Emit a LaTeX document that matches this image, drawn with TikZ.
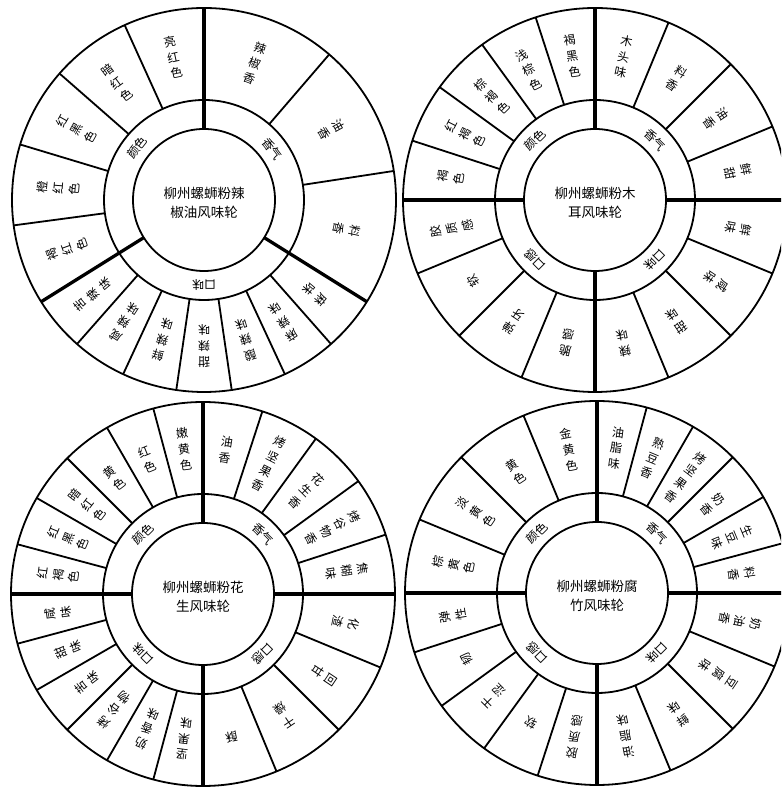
\documentclass[tikz,border=0pt]{standalone}
\usepackage{fontspec}
\newfontfamily\cjk{Noto Sans CJK SC}
\tikzset{
  ring/.style={line width=1.8pt},
  catline/.style={line width=3.3pt},
  segline/.style={line width=1.8pt},
  olab/.style={font=\cjk\fontsize{12}{16}\selectfont, align=center, inner sep=0pt},
  mlab/.style={font=\cjk\fontsize{12}{13}\selectfont, inner sep=0pt},
  wtitle/.style={font=\cjk\fontsize{13.5}{19}\selectfont, align=center, inner sep=0pt},
}
\newcommand\wheelbase[3]{%
  \draw[ring] (0,0) circle[radius=71pt];
  \draw[ring] (0,0) circle[radius=100pt];
  \draw[ring] (0,0) circle[radius=192pt];
  \node[wtitle] (#1t) at (0,-3pt) {#2\\#3};
}
\begin{document}
\begin{tikzpicture}
\clip (0,0) rectangle (781pt,789pt);
\fill[white] (0,0) rectangle (781pt,789pt);

% ---------- wheel 1 ----------
\begin{scope}[shift={(204pt,589pt)}]
  \wheelbase{wa}{柳州螺蛳粉辣}{椒油风味轮}
  \foreach \a in {90,-32,-148} \draw[catline] (\a:71pt) -- (\a:192pt);
  \foreach \a in {114.4,138.8,163.2,187.6,49.3,8.7,-48.6,-65.1,-81.7,-98.3,-114.9,-131.4}
    \draw[segline] (\a:100pt) -- (\a:192pt);
  \foreach \a/\t [count=\i] in {142/颜色,37/香气,-90/口味}
    \node[mlab,rotate=\a-90] (wam\i) at (\a:85pt) {\t};
  \foreach \a/\t [count=\i] in {102.2/{亮\\红\\色},126.6/{暗\\红\\色},151/{红\\黑\\色},175.4/{橙\\红\\色},199.8/{褐\\红\\色},
     69.7/{辣\\椒\\香},29/{油\\香},-11.7/{料\\香},
     -40.3/{麻\\味},-56.9/{麻\\辣\\味},-73.4/{酸\\辣\\味},-90/{甜\\辣\\味},-106.6/{鲜\\辣\\味},-123.1/{咸\\辣\\味},-139.7/{苦\\辣\\味}}
    \node[olab,rotate=\a-90] (wao\i) at (\a:146pt) {\t};
\end{scope}

% ---------- wheel 2 ----------
\begin{scope}[shift={(595pt,589pt)}]
  \wheelbase{wb}{柳州螺蛳粉木}{耳风味轮}
  \foreach \a in {0,90,180,270} \draw[catline] (\a:71pt) -- (\a:192pt);
  \foreach \a in {108,126,144,162,22.5,45,67.5,-22.5,-45,-67.5,202.5,225,247.5}
    \draw[segline] (\a:100pt) -- (\a:192pt);
  \foreach \a/\t [count=\i] in {135/颜色,45/香气,-45/口味,225/口感}
    \node[mlab,rotate=\a-90] (wbm\i) at (\a:85pt) {\t};
  \foreach \a/\t [count=\i] in {99/{褐\\黑\\色},117/{浅\\棕\\色},135/{棕\\褐\\色},153/{红\\褐\\色},171/{褐\\色},
     78.75/{木\\头\\味},56.25/{料\\香},33.75/{油\\香},11.25/{鲜\\甜},
     -11.25/{鲜\\味},-33.75/{咸\\味},-56.25/{甜\\味},-78.75/{辣\\味},
     191.25/{胶\\质\\感},213.75/{软},236.25/{弹\\牙},258.75/{脆\\感}}
    \node[olab,rotate=\a-90] (wbo\i) at (\a:146pt) {\t};
\end{scope}

% ---------- wheel 3 ----------
\begin{scope}[shift={(203pt,195pt)}]
  \wheelbase{wc}{柳州螺蛳粉花}{生风味轮}
  \foreach \a in {0,90,180,270} \draw[catline] (\a:71pt) -- (\a:192pt);
  \foreach \a in {105,120,135,150,165,72,54,36,18,-22.5,-45,-67.5,-105,-120,-135,-150,-165}
    \draw[segline] (\a:100pt) -- (\a:192pt);
  \foreach \a/\t [count=\i] in {135/颜色,45/香气,-45/口感,-135/口味}
    \node[mlab,rotate=\a-90] (wcm\i) at (\a:85pt) {\t};
  \foreach \a/\t [count=\i] in {97.5/{嫩\\黄\\色},112.5/{红\\色},127.5/{黄\\色},142.5/{暗\\红\\色},157.5/{红\\黑\\色},172.5/{红\\褐\\色},
     81/{油\\香},63/{烤\\坚\\果\\香},45/{花\\生\\香},27/{烤\\谷\\物\\香},9/{焦\\糊\\味},
     -11.25/{化\\渣},-33.75/{回\\甘},-56.25/{干\\燥},-78.75/{酥},
     -97.5/{坚\\果\\味},-112.5/{奶\\香\\味},-127.5/{烤\\谷\\物},-142.5/{苦\\味},-157.5/{甜\\味},-172.5/{咸\\味}}
    \node[olab,rotate=\a-90] (wco\i) at (\a:146pt) {\t};
\end{scope}

% ---------- wheel 4 ----------
\begin{scope}[shift={(597pt,196pt)}]
  \wheelbase{wd}{柳州螺蛳粉腐}{竹风味轮}
  \foreach \a in {0,90,180,270} \draw[catline] (\a:71pt) -- (\a:192pt);
  \foreach \a in {112.5,135,157.5,75,60,45,30,15,-22.5,-45,-67.5,-108,-126,-144,-162}
    \draw[segline] (\a:100pt) -- (\a:192pt);
  \foreach \a/\t [count=\i] in {135/颜色,45/香气,-45/口味,-135/口感}
    \node[mlab,rotate=\a-90] (wdm\i) at (\a:85pt) {\t};
  \foreach \a/\t [count=\i] in {101.25/{金\\黄\\色},123.75/{黄\\色},146.25/{淡\\黄\\色},168.75/{棕\\黄\\色},
     82.5/{油\\脂\\味},67.5/{熟\\豆\\香},52.5/{烤\\坚\\果\\香},37.5/{奶\\香},22.5/{生\\豆\\味},7.5/{料\\香},
     -11.25/{奶\\油\\香},-33.75/{豆\\腐\\味},-56.25/{鲜\\味},-78.75/{油\\脂\\味},
     -99/{胶\\质\\感},-117/{软},-135/{干\\涩},-153/{韧},-171/{弹\\性}}
    \node[olab,rotate=\a-90] (wdo\i) at (\a:146pt) {\t};
\end{scope}
\end{tikzpicture}
\end{document}
